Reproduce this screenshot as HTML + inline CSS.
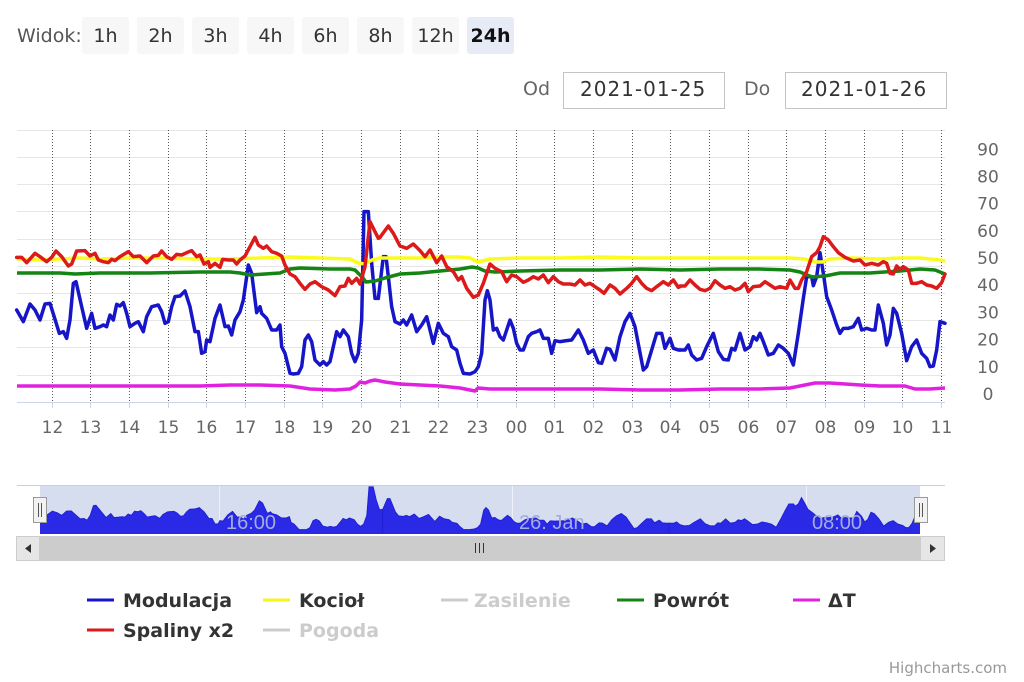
<!DOCTYPE html>
<html>
<head>
<meta charset="utf-8">
<style>
  html,body{margin:0;padding:0;background:#fff;}
  svg{display:block;}
  .t{font-family:"DejaVu Sans","Liberation Sans",sans-serif;}
</style>
</head>
<body>
<svg width="1024" height="682" viewBox="0 0 1024 682" xmlns="http://www.w3.org/2000/svg">
  <rect x="0" y="0" width="1024" height="682" fill="#fff"/>

  <!-- Top range selector -->
  <text class="t" x="17" y="42" font-size="19" fill="#555">Widok:</text>
  <g class="t" font-size="19" text-anchor="middle">
    <rect x="82" y="17" width="47" height="37" rx="3" fill="#f7f7f7"/>
    <text x="105.5" y="42" fill="#333">1h</text>
    <rect x="137" y="17" width="47" height="37" rx="3" fill="#f7f7f7"/>
    <text x="160.5" y="42" fill="#333">2h</text>
    <rect x="192" y="17" width="47" height="37" rx="3" fill="#f7f7f7"/>
    <text x="215.5" y="42" fill="#333">3h</text>
    <rect x="247" y="17" width="47" height="37" rx="3" fill="#f7f7f7"/>
    <text x="270.5" y="42" fill="#333">4h</text>
    <rect x="302" y="17" width="47" height="37" rx="3" fill="#f7f7f7"/>
    <text x="325.5" y="42" fill="#333">6h</text>
    <rect x="357" y="17" width="47" height="37" rx="3" fill="#f7f7f7"/>
    <text x="380.5" y="42" fill="#333">8h</text>
    <rect x="412" y="17" width="47" height="37" rx="3" fill="#f7f7f7"/>
    <text x="435.5" y="42" fill="#333">12h</text>
    <rect x="467" y="17" width="47" height="37" rx="3" fill="#e6ebf5"/>
    <text x="490.5" y="42" fill="#111" font-weight="bold">24h</text>
  </g>

  <!-- Date inputs -->
  <text class="t" x="523" y="95" font-size="19" fill="#666">Od</text>
  <rect x="563.5" y="72.5" width="161" height="36" fill="#fff" stroke="#c4c4c4"/>
  <text class="t" x="580" y="96" font-size="20" letter-spacing="1" fill="#333">2021-01-25</text>
  <text class="t" x="744" y="95" font-size="19" fill="#666">Do</text>
  <rect x="785.5" y="72.5" width="161" height="36" fill="#fff" stroke="#c4c4c4"/>
  <text class="t" x="801" y="96" font-size="20" letter-spacing="1" fill="#333">2021-01-26</text>

  <!-- Horizontal gridlines -->
  <g stroke="#e6e6e6" stroke-width="1">
    <line x1="17" x2="945" y1="130.5" y2="130.5"/>
    <line x1="17" x2="945" y1="157.5" y2="157.5"/>
    <line x1="17" x2="945" y1="184.5" y2="184.5"/>
    <line x1="17" x2="945" y1="211.5" y2="211.5"/>
    <line x1="17" x2="945" y1="239.5" y2="239.5"/>
    <line x1="17" x2="945" y1="266.5" y2="266.5"/>
    <line x1="17" x2="945" y1="293.5" y2="293.5"/>
    <line x1="17" x2="945" y1="320.5" y2="320.5"/>
    <line x1="17" x2="945" y1="347.5" y2="347.5"/>
    <line x1="17" x2="945" y1="375.5" y2="375.5"/>
  </g>

  <!-- Vertical dotted gridlines -->
  <g stroke="#555" stroke-width="1" stroke-dasharray="1,2">
    <line x1="52.5" x2="52.5" y1="130" y2="402"/>
    <line x1="90.5" x2="90.5" y1="130" y2="402"/>
    <line x1="129.5" x2="129.5" y1="130" y2="402"/>
    <line x1="168.5" x2="168.5" y1="130" y2="402"/>
    <line x1="206.5" x2="206.5" y1="130" y2="402"/>
    <line x1="245.5" x2="245.5" y1="130" y2="402"/>
    <line x1="284.5" x2="284.5" y1="130" y2="402"/>
    <line x1="322.5" x2="322.5" y1="130" y2="402"/>
    <line x1="361.5" x2="361.5" y1="130" y2="402"/>
    <line x1="400.5" x2="400.5" y1="130" y2="402"/>
    <line x1="438.5" x2="438.5" y1="130" y2="402"/>
    <line x1="477.5" x2="477.5" y1="130" y2="402"/>
    <line x1="516.5" x2="516.5" y1="130" y2="402"/>
    <line x1="554.5" x2="554.5" y1="130" y2="402"/>
    <line x1="593.5" x2="593.5" y1="130" y2="402"/>
    <line x1="632.5" x2="632.5" y1="130" y2="402"/>
    <line x1="670.5" x2="670.5" y1="130" y2="402"/>
    <line x1="709.5" x2="709.5" y1="130" y2="402"/>
    <line x1="748.5" x2="748.5" y1="130" y2="402"/>
    <line x1="786.5" x2="786.5" y1="130" y2="402"/>
    <line x1="825.5" x2="825.5" y1="130" y2="402"/>
    <line x1="864.5" x2="864.5" y1="130" y2="402"/>
    <line x1="902.5" x2="902.5" y1="130" y2="402"/>
    <line x1="941.5" x2="941.5" y1="130" y2="402"/>
  </g>

  <!-- X axis line & ticks -->
  <line x1="17" x2="945" y1="402.5" y2="402.5" stroke="#ccd6eb"/>
  <g stroke="#ccd6eb">
    <line x1="52.5" x2="52.5" y1="402" y2="408"/><line x1="90.5" x2="90.5" y1="402" y2="408"/>
    <line x1="129.5" x2="129.5" y1="402" y2="408"/><line x1="168.5" x2="168.5" y1="402" y2="408"/>
    <line x1="206.5" x2="206.5" y1="402" y2="408"/><line x1="245.5" x2="245.5" y1="402" y2="408"/>
    <line x1="284.5" x2="284.5" y1="402" y2="408"/><line x1="322.5" x2="322.5" y1="402" y2="408"/>
    <line x1="361.5" x2="361.5" y1="402" y2="408"/><line x1="400.5" x2="400.5" y1="402" y2="408"/>
    <line x1="438.5" x2="438.5" y1="402" y2="408"/><line x1="477.5" x2="477.5" y1="402" y2="408"/>
    <line x1="516.5" x2="516.5" y1="402" y2="408"/><line x1="554.5" x2="554.5" y1="402" y2="408"/>
    <line x1="593.5" x2="593.5" y1="402" y2="408"/><line x1="632.5" x2="632.5" y1="402" y2="408"/>
    <line x1="670.5" x2="670.5" y1="402" y2="408"/><line x1="709.5" x2="709.5" y1="402" y2="408"/>
    <line x1="748.5" x2="748.5" y1="402" y2="408"/><line x1="786.5" x2="786.5" y1="402" y2="408"/>
    <line x1="825.5" x2="825.5" y1="402" y2="408"/><line x1="864.5" x2="864.5" y1="402" y2="408"/>
    <line x1="902.5" x2="902.5" y1="402" y2="408"/><line x1="941.5" x2="941.5" y1="402" y2="408"/>
  </g>

  <!-- X labels -->
  <g class="t" font-size="17" fill="#666" text-anchor="middle">
    <text x="52.5" y="433">12</text><text x="90.5" y="433">13</text>
    <text x="129.5" y="433">14</text><text x="168.5" y="433">15</text>
    <text x="206.5" y="433">16</text><text x="245.5" y="433">17</text>
    <text x="284.5" y="433">18</text><text x="322.5" y="433">19</text>
    <text x="361.5" y="433">20</text><text x="400.5" y="433">21</text>
    <text x="438.5" y="433">22</text><text x="477.5" y="433">23</text>
    <text x="516.5" y="433">00</text><text x="554.5" y="433">01</text>
    <text x="593.5" y="433">02</text><text x="632.5" y="433">03</text>
    <text x="670.5" y="433">04</text><text x="709.5" y="433">05</text>
    <text x="748.5" y="433">06</text><text x="786.5" y="433">07</text>
    <text x="825.5" y="433">08</text><text x="864.5" y="433">09</text>
    <text x="902.5" y="433">10</text><text x="941.5" y="433">11</text>
  </g>

  <!-- Y labels -->
  <g class="t" font-size="17" fill="#666" text-anchor="middle">
    <text x="988" y="155.5">90</text>
    <text x="988" y="182.5">80</text>
    <text x="988" y="209.5">70</text>
    <text x="988" y="237">60</text>
    <text x="988" y="264">50</text>
    <text x="988" y="291">40</text>
    <text x="988" y="318.5">30</text>
    <text x="988" y="345.5">20</text>
    <text x="988" y="373">10</text>
    <text x="988" y="400">0</text>
  </g>

  <!-- Series: Modulacja (blue) -->
  <g fill="none" stroke="#1616c8" stroke-width="10.5" stroke-linejoin="round" stroke-linecap="round">
    <path transform="translate(0,120) scale(0.33333)" d="M50,570 L70,605 L90,552 L105,570 L120,600 L135,552 L150,550 L165,598 L178,640 L190,635 L200,655 L210,600 L220,490 L228,485 L245,560 L260,625 L275,580 L285,625 L300,620 L310,615 L320,620 L330,585 L340,600 L350,553 L360,558 L370,548 L380,580 L390,620 L405,610 L415,605 L430,635 L440,590 L455,560 L475,555 L485,575 L495,610 L505,605 L515,560 L525,530 L540,528 L555,513 L570,560 L585,635 L595,635 L605,700 L615,695 L620,660 L630,665 L645,595 L660,555 L675,620 L685,618 L695,645 L705,600 L720,575 L730,540 L745,435 L755,460 L770,578 L780,560 L785,580 L800,595 L815,630 L830,630 L840,615 L845,680 L855,700 L870,760 L880,762 L895,760 L905,740 L915,660 L925,645 L935,665 L945,720 L960,735 L970,725 L980,735 L990,725 L1000,680 L1010,635 L1020,650 L1030,630 L1045,650 L1055,700 L1065,725 L1075,700 L1085,600 L1092,275 L1105,275 L1115,430 L1125,535 L1135,535"/>
    <path transform="translate(380,120) scale(0.33333)" d="M-5,535 L10,410 L18,410 L25,470 L35,560 L45,605 L60,612 L70,600 L80,615 L95,585 L110,635 L125,615 L140,590 L160,670 L175,610 L190,640 L205,650 L215,680 L230,690 L240,730 L250,760 L270,762 L285,755 L295,740 L305,700 L315,540 L322,512 L330,540 L340,630 L350,625 L360,650 L370,660 L390,600 L400,625 L410,670 L420,690 L430,690 L445,650 L455,640 L470,635 L480,630 L490,655 L505,655 L515,700 L525,662 L540,665 L560,662 L575,660 L595,630 L610,660 L625,700 L640,690 L655,728 L665,730 L680,685 L690,688 L705,720 L720,650 L735,605 L750,580 L765,620 L790,750 L800,740 L815,690 L830,640 L845,640 L855,685 L870,655 L880,685 L895,690 L900,690"/>
    <path transform="translate(680,120) scale(0.33333)" d="M0,690 L15,690 L25,675 L35,705 L50,720 L65,715 L80,680 L100,640 L115,695 L130,718 L145,720 L155,685 L165,690 L180,640 L195,690 L210,680 L220,650 L230,660 L240,640 L250,665 L265,705 L280,700 L295,675 L310,685 L325,700 L340,735 L355,640 L370,535 L380,470 L395,470 L400,497 L410,470 L420,398 L430,460 L440,530 L455,570 L470,615 L480,640 L490,625 L505,625 L520,620 L535,595 L545,630 L560,625 L575,630 L585,630 L595,555 L610,610 L620,675 L630,645 L640,565 L650,580 L665,640 L680,722 L695,680 L710,660 L725,700 L740,715 L750,740 L760,738 L770,690 L780,605 L795,610"/>
  </g>

  <!-- Kocioł (yellow) -->
  <path fill="none" stroke="#fbfb1e" stroke-width="3.5" stroke-linejoin="round" d="M17,259 L40,260 L60,259 L80,258 L100,259 L130,258 L160,258 L200,259 L230,259 L260,258 L290,257 L320,258 L350,259 L358,263 L365,264 L372,260 L380,258 L420,258 L440,257 L460,257 L470,258 L478,262 L490,259 L520,258 L560,258 L600,257 L640,258 L680,258 L720,258 L760,258 L790,258 L805,259 L815,262 L822,262 L830,259 L850,258 L880,259 L900,258 L920,258 L940,260 L945,261"/>

  <!-- Powrót (green) -->
  <path fill="none" stroke="#148414" stroke-width="3.5" stroke-linejoin="round" d="M17,273 L60,273 L75,274 L100,273 L150,273 L200,272 L230,272 L240,273 L250,275 L265,274 L280,273 L290,269 L300,268 L330,269 L350,269 L355,270 L362,277 L366,282 L375,281 L385,278 L400,274 L420,273 L440,271 L460,269 L472,267 L478,268 L485,271 L495,272 L520,271 L560,270 L600,270 L640,269 L680,270 L720,269 L760,269 L790,270 L800,272 L812,277 L825,276 L840,273 L870,273 L900,271 L920,269 L935,270 L945,274"/>

  <!-- ΔT (magenta) -->
  <path fill="none" stroke="#e022e0" stroke-width="3.5" stroke-linejoin="round" d="M17,386 L60,386 L100,386 L150,386 L200,386 L230,385 L260,385 L290,386 L310,389 L335,390 L350,389 L356,386 L360,382 L365,383 L370,381 L375,380 L385,382 L400,384 L420,385 L440,386 L460,388 L475,391 L478,388 L490,389 L520,389 L560,389 L600,389 L640,390 L680,390 L720,389 L760,389 L790,388 L805,385 L815,383 L830,383 L860,385 L880,386 L905,386 L915,389 L930,389 L945,388"/>

  <!-- Spaliny x2 (red) -->
  <g fill="none" stroke="#dc1a1a" stroke-width="10.5" stroke-linejoin="round" stroke-linecap="round">
    <path transform="translate(0,120) scale(0.33333)" d="M50,412 L65,412 L80,428 L105,400 L120,410 L140,425 L155,412 L168,393 L185,410 L205,438 L215,432 L230,393 L255,392 L270,408 L285,400 L295,420 L310,425 L325,428 L335,418 L345,422 L360,410 L385,395 L400,410 L420,408 L440,428 L460,408 L475,406 L485,393 L500,410 L515,418 L530,403 L545,405 L560,398 L575,392 L590,410 L600,405 L612,432 L625,425 L630,442 L645,430 L660,442 L668,418 L685,420 L700,420 L710,432 L720,420 L735,408 L750,380 L765,352 L775,375 L790,385 L800,378 L815,395 L830,400 L845,408 L855,435 L870,462 L885,470 L900,490 L915,508 L930,492 L945,485 L965,500 L975,505 L985,510 L1005,527 L1020,500 L1035,498 L1045,475 L1055,490 L1070,475 L1080,492 L1095,440 L1110,305 L1125,335 L1135,355 L1140,352"/>
    <path transform="translate(380,120) scale(0.33333)" d="M0,352 L25,318 L40,340 L60,378 L80,385 L100,372 L120,392 L135,410 L150,390 L170,428 L185,408 L200,440 L220,455 L235,480 L245,470 L260,505 L280,532 L295,525 L310,490 L330,432 L345,445 L365,455 L380,485 L395,465 L410,470 L430,487 L445,480 L460,470 L475,477 L490,465 L505,488 L520,470 L535,485 L550,492 L570,492 L585,495 L600,480 L615,495 L630,490 L645,500 L660,510 L672,520 L690,495 L705,505 L720,522 L740,505 L755,490 L770,470 L785,490 L800,505 L815,512 L830,500 L850,485 L865,495 L880,480 L895,502 L900,500"/>
    <path transform="translate(680,120) scale(0.33333)" d="M0,498 L15,498 L30,480 L45,495 L60,508 L75,512 L90,505 L105,482 L120,495 L135,505 L150,500 L165,510 L180,505 L195,490 L205,515 L220,500 L240,498 L255,485 L270,495 L285,505 L300,500 L320,505 L330,480 L345,505 L355,505 L365,480 L380,455 L395,410 L410,398 L420,380 L430,350 L445,360 L460,380 L475,398 L495,412 L520,423 L540,420 L555,435 L575,430 L595,435 L610,425 L620,430 L630,460 L640,462 L650,438 L660,448 L670,440 L685,450 L695,490 L710,490 L725,485 L740,495 L755,498 L770,505 L785,488 L795,462"/>
  </g>

  <!-- Navigator -->
  <defs>
    <clipPath id="navclip"><rect x="40" y="486" width="880" height="48"/></clipPath>
  </defs>
  <line x1="17" x2="945" y1="485.5" y2="485.5" stroke="#cfcfcf"/>
  <rect x="40" y="486" width="880" height="48" fill="#d5ddef"/>
  <g stroke="#eef1f8" stroke-width="1">
    <line x1="219.5" x2="219.5" y1="486" y2="534"/>
    <line x1="512.5" x2="512.5" y1="486" y2="534"/>
    <line x1="806.5" x2="806.5" y1="486" y2="534"/>
  </g>
  <g clip-path="url(#navclip)">
    <g transform="translate(23.88,431.03) scale(0.9483,0.2636)" fill="#2a2ae6" stroke="#2020d4" stroke-width="1">
      <path vector-effect="non-scaling-stroke" transform="translate(0,120) scale(0.33333)" d="M50,570 L70,605 L90,552 L105,570 L120,600 L135,552 L150,550 L165,598 L178,640 L190,635 L200,655 L210,600 L220,490 L228,485 L245,560 L260,625 L275,580 L285,625 L300,620 L310,615 L320,620 L330,585 L340,600 L350,553 L360,558 L370,548 L380,580 L390,620 L405,610 L415,605 L430,635 L440,590 L455,560 L475,555 L485,575 L495,610 L505,605 L515,560 L525,530 L540,528 L555,513 L570,560 L585,635 L595,635 L605,700 L615,695 L620,660 L630,665 L645,595 L660,555 L675,620 L685,618 L695,645 L705,600 L720,575 L730,540 L745,435 L755,460 L770,578 L780,560 L785,580 L800,595 L815,630 L830,630 L840,615 L845,680 L855,700 L870,760 L880,762 L895,760 L905,740 L915,660 L925,645 L935,665 L945,720 L960,735 L970,725 L980,735 L990,725 L1000,680 L1010,635 L1020,650 L1030,630 L1045,650 L1055,700 L1065,725 L1075,700 L1085,600 L1092,275 L1105,275 L1115,430 L1125,535 L1138,535 L1138,900 L30,900 L30,570 Z"/>
      <path vector-effect="non-scaling-stroke" transform="translate(380,120) scale(0.33333)" d="M-5,535 L10,410 L18,410 L25,470 L35,560 L45,605 L60,612 L70,600 L80,615 L95,585 L110,635 L125,615 L140,590 L160,670 L175,610 L190,640 L205,650 L215,680 L230,690 L240,730 L250,760 L270,762 L285,755 L295,740 L305,700 L315,540 L322,512 L330,540 L340,630 L350,625 L360,650 L370,660 L390,600 L400,625 L410,670 L420,690 L430,690 L445,650 L455,640 L470,635 L480,630 L490,655 L505,655 L515,700 L525,662 L540,665 L560,662 L575,660 L595,630 L610,660 L625,700 L640,690 L655,728 L665,730 L680,685 L690,688 L705,720 L720,650 L735,605 L750,580 L765,620 L790,750 L800,740 L815,690 L830,640 L845,640 L855,685 L870,655 L880,685 L895,690 L903,690 L903,900 L-5,900 Z"/>
      <path vector-effect="non-scaling-stroke" transform="translate(680,120) scale(0.33333)" d="M0,690 L15,690 L25,675 L35,705 L50,720 L65,715 L80,680 L100,640 L115,695 L130,718 L145,720 L155,685 L165,690 L180,640 L195,690 L210,680 L220,650 L230,660 L240,640 L250,665 L265,705 L280,700 L295,675 L310,685 L325,700 L340,735 L355,640 L370,535 L380,470 L395,470 L400,497 L410,470 L420,398 L430,460 L440,530 L455,570 L470,615 L480,640 L490,625 L505,625 L520,620 L535,595 L545,630 L560,625 L575,630 L585,630 L595,555 L610,610 L620,675 L630,645 L640,565 L650,580 L665,640 L680,722 L695,680 L710,660 L725,700 L740,715 L750,740 L760,738 L770,690 L780,605 L800,610 L800,900 L0,900 Z"/>
    </g>
  </g>
  <g font-family="Liberation Sans, Arial, sans-serif" font-size="20" fill="#a4acdc">
    <text x="226" y="529">16:00</text>
    <text x="519" y="529">26. Jan</text>
    <text x="812" y="529">08:00</text>
  </g>

  <!-- Navigator handles -->
  <rect x="33.5" y="497.5" width="13" height="25" fill="#f2f2f2" stroke="#999"/>
  <line x1="38.5" x2="38.5" y1="503" y2="517" stroke="#555"/>
  <line x1="41.5" x2="41.5" y1="503" y2="517" stroke="#555"/>
  <rect x="914.5" y="497.5" width="13" height="25" fill="#f2f2f2" stroke="#999"/>
  <line x1="919.5" x2="919.5" y1="503" y2="517" stroke="#555"/>
  <line x1="922.5" x2="922.5" y1="503" y2="517" stroke="#555"/>

  <!-- Scrollbar -->
  <rect x="16.5" y="536.5" width="23" height="24" fill="#e6e6e6" stroke="#cccccc"/>
  <polygon points="31,544 25,548.5 31,553" fill="#333"/>
  <rect x="40" y="536" width="880" height="25" fill="#cccccc"/>
  <g stroke="#333" stroke-width="1">
    <line x1="475.5" x2="475.5" y1="543" y2="553"/>
    <line x1="479.5" x2="479.5" y1="543" y2="553"/>
    <line x1="483.5" x2="483.5" y1="543" y2="553"/>
  </g>
  <rect x="920.5" y="536.5" width="24" height="24" fill="#e6e6e6" stroke="#cccccc"/>
  <polygon points="930,544 936,548.5 930,553" fill="#333"/>

  <!-- Legend -->
  <g stroke-width="3">
    <line x1="87" x2="114" y1="600" y2="600" stroke="#1616c8"/>
    <line x1="263" x2="290" y1="600" y2="600" stroke="#f5f51e"/>
    <line x1="441" x2="468" y1="600" y2="600" stroke="#cccccc"/>
    <line x1="617" x2="644" y1="600" y2="600" stroke="#148414"/>
    <line x1="793" x2="820" y1="600" y2="600" stroke="#e022e0"/>
    <line x1="87" x2="114" y1="630" y2="630" stroke="#dc1a1a"/>
    <line x1="263" x2="290" y1="630" y2="630" stroke="#cccccc"/>
  </g>
  <g class="t" font-size="19" font-weight="bold">
    <text x="123" y="607" fill="#333">Modulacja</text>
    <text x="299" y="607" fill="#333">Kocioł</text>
    <text x="474" y="607" fill="#cccccc">Zasilenie</text>
    <text x="653" y="607" fill="#333">Powrót</text>
    <text x="828" y="607" fill="#333">ΔT</text>
    <text x="123" y="637" fill="#333">Spaliny x2</text>
    <text x="299" y="637" fill="#cccccc">Pogoda</text>
  </g>

  <!-- Credits -->
  <text class="t" x="1007" y="673" font-size="15" fill="#999" text-anchor="end">Highcharts.com</text>
</svg>
</body>
</html>
